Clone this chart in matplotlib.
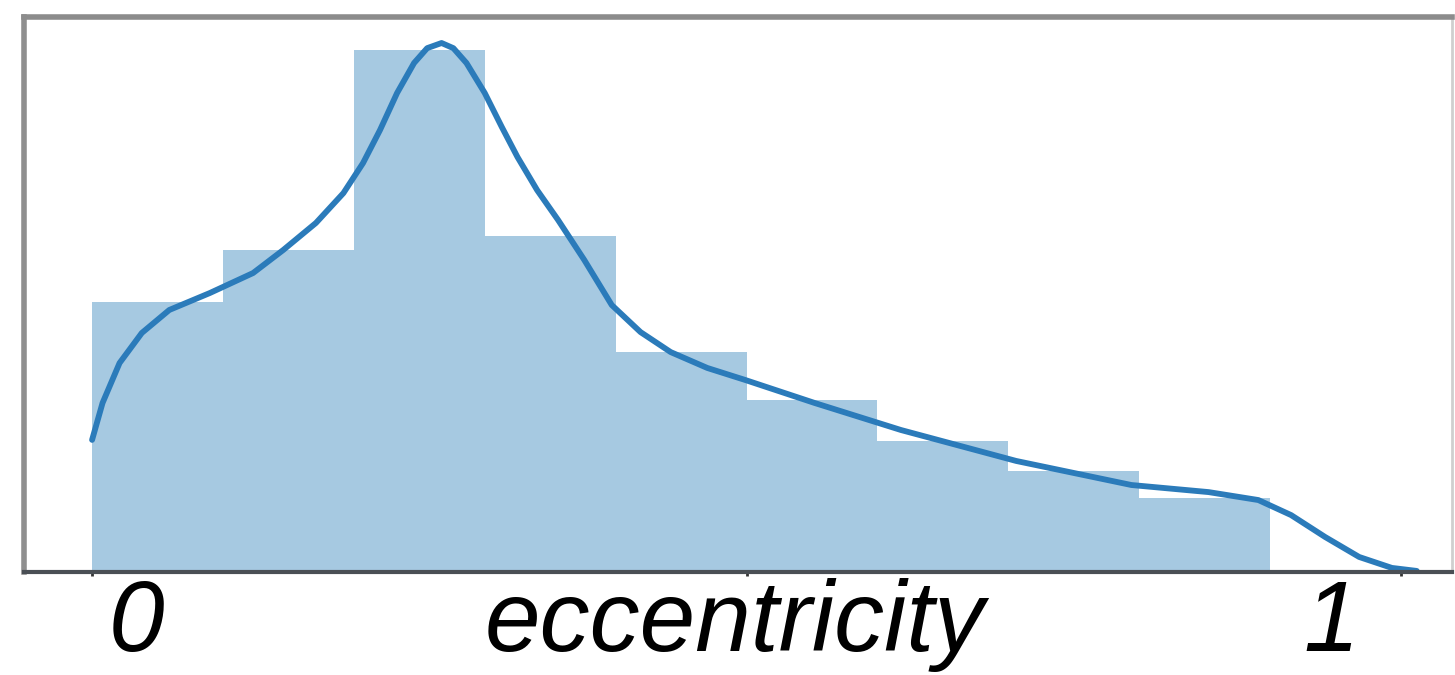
import matplotlib
matplotlib.use("Agg")
import matplotlib.pyplot as plt

# histogram of eccentricity (density), bins of width 0.1
bin_left = [0.0, 0.1, 0.2, 0.3, 0.4, 0.5, 0.6, 0.7, 0.8]
bin_heights = [1.257, 1.499, 2.430, 1.564, 1.024, 0.801, 0.610, 0.470, 0.345]

# kde curve
kde_x = [0.000, 0.008, 0.021, 0.038, 0.059, 0.090, 0.123, 0.146, 0.171, 0.192,
         0.207, 0.220, 0.233, 0.246, 0.256, 0.267, 0.276, 0.286, 0.300, 0.313,
         0.325, 0.340, 0.356, 0.376, 0.397, 0.419, 0.442, 0.470, 0.499, 0.552,
         0.618, 0.706, 0.794, 0.853, 0.891, 0.916, 0.942, 0.968, 0.993, 1.012]
kde_y = [0.615, 0.787, 0.973, 1.113, 1.220, 1.299, 1.392, 1.499, 1.625, 1.764,
         1.904, 2.058, 2.230, 2.370, 2.439, 2.463, 2.439, 2.370, 2.230, 2.072,
         1.932, 1.778, 1.639, 1.453, 1.243, 1.117, 1.024, 0.950, 0.894, 0.787,
         0.661, 0.517, 0.405, 0.372, 0.335, 0.265, 0.163, 0.070, 0.019, 0.005]

x_labels = ["0", "eccentricity", "1"]
x_label_pos = [0.094, 0.505, 0.915]

fig = plt.figure(figsize=(14.55, 6.75), dpi=100)
ax = fig.add_axes([0.0165, 0.1526, 0.9815, 0.8222])

ax.bar(bin_left, bin_heights, width=0.1, align='edge', color='#a6c9e1', linewidth=0)
ax.plot(kde_x, kde_y, color='#2b7bba', linewidth=4.2,
        solid_capstyle='round', solid_joinstyle='round')

ax.set_xlim(-0.052, 1.039)
ax.set_ylim(0, 2.584)
ax.set_xticks([0, 0.5, 1.0])
ax.set_xticklabels([])
ax.set_yticks([])
ax.tick_params(axis='x', direction='out', length=3, width=2, color='#333333')

ax.spines['top'].set_color('#8c8c8c')
ax.spines['top'].set_linewidth(4)
ax.spines['left'].set_color('#8f8f8f')
ax.spines['left'].set_linewidth(4)
ax.spines['bottom'].set_color('#4a4f55')
ax.spines['bottom'].set_linewidth(3)
ax.spines['right'].set_color('#cfcfcf')
ax.spines['right'].set_linewidth(2)

for label, xpos in zip(x_labels, x_label_pos):
    fig.text(xpos, 0.035, label, ha='center', va='baseline', fontsize=72,
             style='italic', family=['Liberation Sans', 'DejaVu Sans'])

fig.savefig("out.png", dpi=100)
